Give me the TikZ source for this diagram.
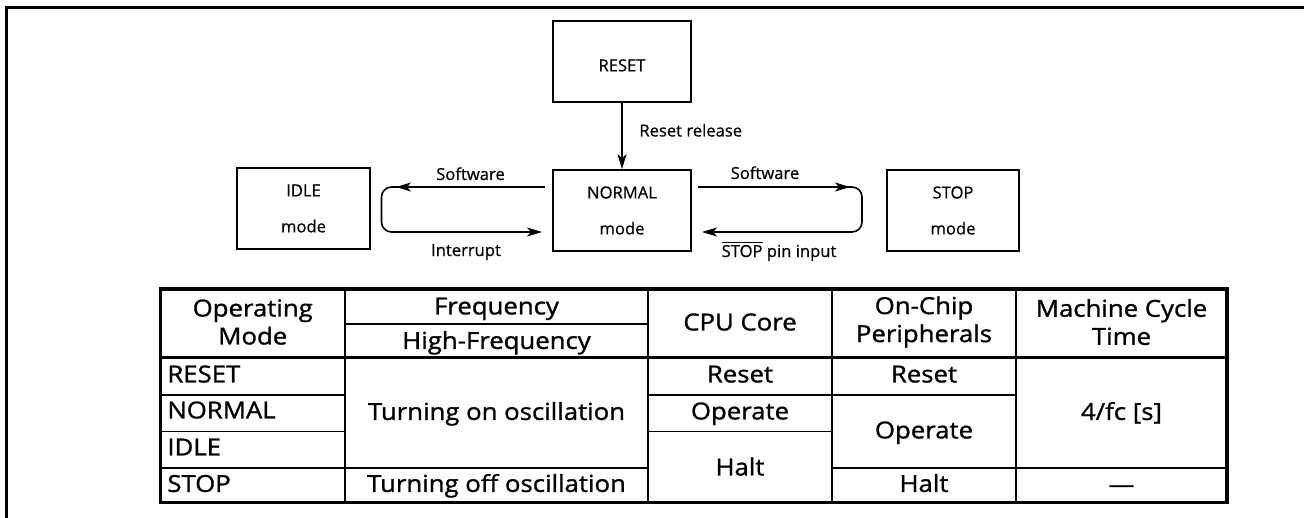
\documentclass[tikz,border=0pt]{standalone}
\usepackage{fontspec}
\setmainfont{Open Sans}
\newfontfamily\tabfont{Open Sans}[FakeStretch=1.1, FakeBold=1.2]
\newfontfamily\diafont{Open Sans}[FakeBold=0.6]
\usetikzlibrary{arrows.meta}

\tikzset{
  modebox/.style={draw, line width=0.8pt, minimum width=69pt, minimum height=40.5pt,
    inner sep=0pt, align=center, font=\diafont\fontsize{8.3pt}{16pt}\selectfont},
  lbl/.style={font=\diafont\fontsize{8.3pt}{10pt}\selectfont, inner sep=0pt, anchor=base},
  flow/.style={line width=0.8pt, -{Stealth[length=7.5pt,width=4.5pt,inset=2pt]}},
  cell/.style={font=\tabfont\fontsize{11.7pt}{14pt}\selectfont, inner sep=0pt,
    text height=8.4pt, text depth=0pt},
  head/.style={font=\tabfont\fontsize{11.7pt}{14pt}\selectfont, inner sep=0pt, align=center},
  tabthick/.style={line width=1.8pt},
  tabthin/.style={line width=0.9pt}
}

\begin{document}
\begin{tikzpicture}[x=0.5pt,y=-0.5pt]
    \useasboundingbox (0,0) rectangle (1304,518);

    % Frame
    \draw[line width=1.5pt] (6.7,518) -- (6.7,7.7) -- (1304,7.7);

    % Mode boxes
    \node[modebox, text height=9.9pt] (reset) at (622,61.5) {RESET};
    \node[modebox] (normal) at (622,210.5) {NORMAL\\[2pt]mode};
    \node[modebox, minimum width=66.5pt] (idle) at (303.5,208.5) {IDLE\\[2pt]mode};
    \node[modebox, minimum width=66pt] (stop) at (953,210.5) {STOP\\[2pt]mode};

    % Reset release
    \draw[flow] (reset) -- (normal);
    \node[lbl, anchor=base west] (rstrel) at (639,136.5) {Reset release};

    % NORMAL <-> IDLE
    \coordinate (swlA) at (545,187);
    \coordinate (swlB) at (396,187);
    \coordinate (intA) at (399,187);
    \coordinate (intB) at (542,232);
    \draw[flow] (swlA) -- (swlB);
    \draw[flow, rounded corners=5pt] (intA) -- (381.5,187) -- (381.5,232) -- (intB);
    \node[lbl] (swl) at (470.5,180) {Software};
    \node[lbl] (intl) at (466,256) {Interrupt};

    % NORMAL <-> STOP
    \coordinate (swrA) at (698,187);
    \coordinate (swrB) at (850,187);
    \coordinate (pinA) at (847,187);
    \coordinate (pinB) at (702,232);
    \draw[flow] (swrA) -- (swrB);
    \draw[flow, rounded corners=5pt] (pinA) -- (862,187) -- (862,232) -- (pinB);
    \node[lbl] (swr) at (765,179) {Software};
    \node[lbl] (pinl) at (779,257) {$\overline{\mbox{STOP}}$ pin input};

    % Table lines
    \draw[tabthick] (160.5,289) rectangle (1227,502.5);
    \draw[tabthick] (160.5,357.5) -- (1227,357.5);
    \foreach \cx in {345,648,832,1016}
        \draw[tabthin] (\cx,289) -- (\cx,502.5);
    \draw[tabthin] (345,324) -- (648,324);
    \draw[tabthin] (160.5,395) -- (345,395) (648,395) -- (1016,395);
    \draw[tabthin] (160.5,431.5) -- (345,431.5) (648,431.5) -- (832,431.5);
    \draw[tabthin] (160.5,468) -- (648,468) (832,468) -- (1227,468);

    % Header
    \node[head] (hmode) at (252.75,322) {Operating\\Mode};
    \node[cell] (hfreq) at (496.5,306) {Frequency};
    \node[cell] (hhigh) at (496.5,340.5) {High-Frequency};
    \node[cell] (hcpu) at (740,322) {CPU Core};
    \node[head] (hperi) at (924,322) {On-Chip\\Peripherals};
    \node[head] (hcyc) at (1121.5,322) {Machine Cycle\\Time};

    % Operating modes
    \foreach \lab/\ry [count=\i] in {RESET/374, NORMAL/410, IDLE/447, STOP/483.5}
        \node[cell, anchor=west] (m\i) at (167,\ry) {\lab};

    % Frequency
    \node[cell] (fon) at (496.5,411.5) {Turning on oscillation};
    \node[cell] (foff) at (496.5,483.5) {Turning off oscillation};

    % CPU core
    \node[cell] (cpu1) at (740,374) {Reset};
    \node[cell] (cpu2) at (740,411) {Operate};
    \node[cell] (cpu3) at (740,467) {Halt};

    % On-chip peripherals
    \node[cell] (peri1) at (924,374) {Reset};
    \node[cell] (peri2) at (924,430) {Operate};
    \node[cell] (peri3) at (924,483.5) {Halt};

    % Machine cycle time
    \node[cell] (cyc1) at (1121.5,411.5) {4/fc [s]};
    \node[cell] (cyc2) at (1121.5,484) {—};
\end{tikzpicture}
\end{document}
